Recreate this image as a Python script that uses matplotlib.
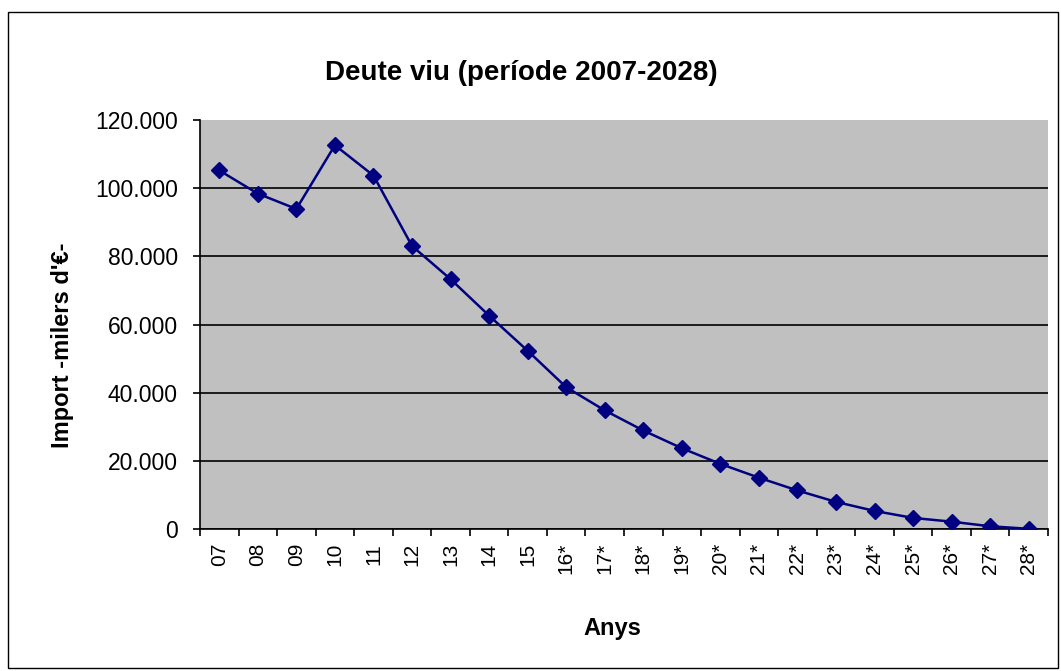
import matplotlib.pyplot as plt
from matplotlib.patches import Rectangle
from matplotlib.ticker import FuncFormatter

plt.rcParams['font.family'] = ['Liberation Sans', 'DejaVu Sans']

# years (2007-2028), * = forecast
years = ['07', '08', '09', '10', '11', '12', '13', '14', '15', '16*', '17*',
         '18*', '19*', '20*', '21*', '22*', '23*', '24*', '25*', '26*', '27*', '28*']
# outstanding debt, thousands of euros
debt = [105200, 98400, 93900, 112600, 103700, 83050, 73300, 62600, 52300,
        41600, 34800, 28900, 23700, 19100, 15050, 11300, 7950, 5300, 3250,
        2150, 800, 50]
y_ticks = [0, 20000, 40000, 60000, 80000, 100000, 120000]

fig = plt.figure(figsize=(10.61, 6.71), dpi=100)
ax = fig.add_axes([200 / 1061, 1 - 529 / 671, 848 / 1061, 409 / 671])

x = list(range(len(years)))
ax.plot(x, debt, color='#000080', linewidth=1.8, marker='D', markersize=8,
        markerfacecolor='#000080', markeredgecolor='#000080', zorder=3)

ax.set_facecolor('#C0C0C0')
ax.set_xlim(-0.5, len(years) - 0.5)
ax.set_ylim(0, 120000)

# labels at category centers, tick marks at boundaries (Excel style)
ax.set_xticks(x)
ax.set_xticklabels(years, rotation=90, fontsize=15)
ax.set_xticks([i - 0.5 for i in range(len(years) + 1)], minor=True)
ax.tick_params(axis='x', which='major', length=0, pad=10)
ax.tick_params(axis='x', which='minor', length=5, width=1.2, direction='out')

ax.set_yticks(y_ticks)
ax.yaxis.set_major_formatter(FuncFormatter(lambda v, p: '0' if v == 0 else f'{int(v):,}'.replace(',', '.')))
ax.tick_params(axis='y', length=5, width=1.2, direction='out', labelsize=16.5, pad=11)

ax.grid(axis='y', color='black', linewidth=1.2)
ax.yaxis.get_gridlines()[-1].set_visible(False)
ax.set_axisbelow(True)

for s in ['top', 'right']:
    ax.spines[s].set_visible(False)
for s in ['left', 'bottom']:
    ax.spines[s].set_linewidth(1.2)

fig.text(521 / 1061, 1 - 73 / 671, 'Deute viu (període 2007-2028)', fontsize=20,
         fontweight='bold', ha='center', va='center')
fig.text(62 / 1061, 1 - 345 / 671, "Import -milers d'€-", fontsize=17,
         fontweight='bold', ha='center', va='center', rotation=90)
fig.text(612 / 1061, 1 - 628 / 671, 'Anys', fontsize=17, fontweight='bold',
         ha='center', va='center')

# outer chart border
fig.patches.append(Rectangle((8 / 1061, 1 - 668 / 671), 1050 / 1061, 656 / 671,
                             transform=fig.transFigure, fill=False,
                             edgecolor='black', linewidth=1))

plt.savefig('out.png', dpi=100)
